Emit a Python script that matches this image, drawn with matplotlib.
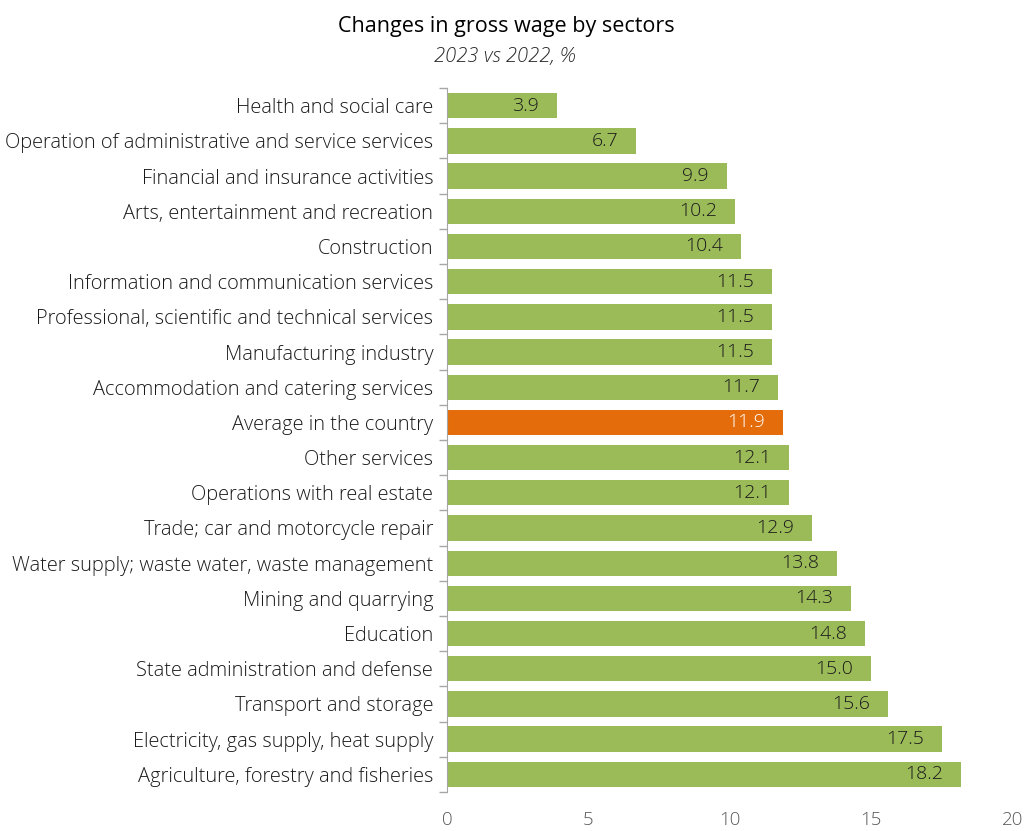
import matplotlib.pyplot as plt

# sectors from top to bottom, with the change in gross wage (%)
sectors = [
    "Health and social care",
    "Operation of administrative and service services",
    "Financial and insurance activities",
    "Arts, entertainment and recreation",
    "Construction",
    "Information and communication services",
    "Professional, scientific and technical services",
    "Manufacturing industry",
    "Accommodation and catering services",
    "Average in the country",
    "Other services",
    "Operations with real estate",
    "Trade; car and motorcycle repair",
    "Water supply; waste water, waste management",
    "Mining and quarrying",
    "Education",
    "State administration and defense",
    "Transport and storage",
    "Electricity, gas supply, heat supply",
    "Agriculture, forestry and fisheries",
]
changes = [3.9, 6.7, 9.9, 10.2, 10.4, 11.5, 11.5, 11.5, 11.7, 11.9,
           12.1, 12.1, 12.9, 13.8, 14.3, 14.8, 15.0, 15.6, 17.5, 18.2]
highlight = "Average in the country"
x_ticks = [0, 5, 10, 15, 20]

green = "#9BBB59"
orange = "#E46C0A"

plt.rcParams['font.family'] = ['Open Sans', 'DejaVu Sans']

fig = plt.figure(figsize=(10.26, 8.31), dpi=100)
ax = fig.add_axes([0.4357, 0.047, 0.551, 0.847])

ypos = list(range(len(sectors)))
colors = [orange if s == highlight else green for s in sectors]
bars = ax.barh(ypos, changes, height=0.72, color=colors)

# value labels inside the bar ends
for y, v, s in zip(ypos, changes, sectors):
    ax.annotate(f"{v:.1f}", xy=(v, y), xytext=(-13, 0), textcoords='offset points',
                ha='right', va='center', fontsize=14, fontweight='light',
                color='white' if s == highlight else '#1a1a1a')

ax.set_ylim(len(sectors) - 0.5, -0.5)
ax.set_xlim(0, 20)
ax.set_yticks(ypos)
ax.set_yticklabels(sectors, fontsize=14.4, fontweight='light', color='#1a1a1a')
ax.tick_params(axis='y', length=0, pad=10)

# category separator ticks on the y axis
ax.set_yticks([i - 0.5 for i in range(len(sectors) + 1)], minor=True)
ax.tick_params(axis='y', which='minor', length=6, color='#A6A6A6', width=1)

ax.set_xticks(x_ticks)
ax.set_xticklabels([str(t) for t in x_ticks], fontsize=13.5, fontweight='light', color='#595959')
ax.tick_params(axis='x', length=0, pad=14)

for side in ['top', 'right', 'bottom']:
    ax.spines[side].set_visible(False)
ax.spines['left'].set_color('#A6A6A6')

fig.text(0.493, 0.968, "Changes in gross wage by sectors", ha='center', va='center',
         fontsize=15.5, color='black')
fig.text(0.492, 0.932, "2023 vs 2022, %", ha='center', va='center',
         fontsize=14.5, style='italic', fontweight='light', color='#262626')

fig.savefig("out.png", dpi=100)
